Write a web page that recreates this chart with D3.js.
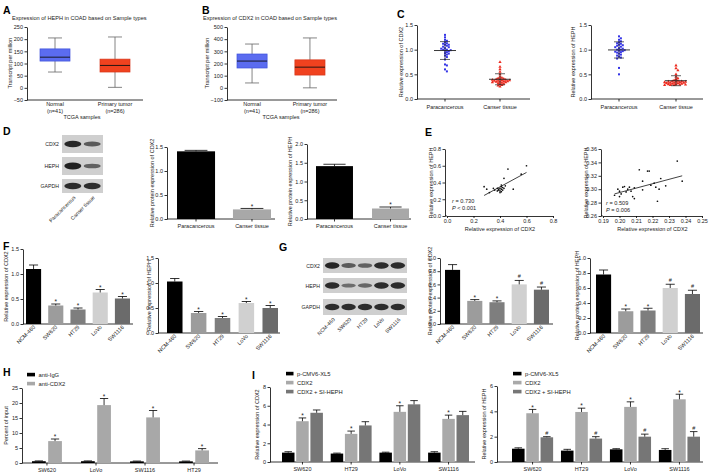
<!DOCTYPE html>
<html lang="en">
<head>
<meta charset="UTF-8">
<title>CDX2 / HEPH figure</title>
<script src="https://cdn.jsdelivr.net/npm/d3@7"></script>
<style>
  body{margin:0;background:#fff;}
  svg{font-family:"Liberation Sans",Arial,sans-serif;display:block;}
</style>
</head>
<body>
<svg id="fig" width="709" height="474" viewBox="0 0 709 474"></svg>
<script>
// ---------- data ----------
// A / B : TCGA box plots, [min, q1, median, q3, max]
const tcgaGroups = ['Normal', 'Primary tumor'];
const tcgaN = ['(n=41)', '(n=286)'];
const hephBox = [[65, 110, 126, 160, 205], [2, 65, 92, 118, 209]];
const cdx2Box = [[40, 163, 220, 278, 360], [0, 105, 170, 230, 410]];

// C : tissue scatter
const tissues = ['Paracancerous', 'Canser tissue'];
const cdx2Para = [1.3, 1.25, 1.2, 1.18, 1.15, 1.13, 1.12, 1.1, 1.1, 1.08, 1.06, 1.05, 1.03, 1.02, 1.0,
                  1.0, 0.99, 0.98, 0.97, 0.95, 0.93, 0.92, 0.9, 0.88, 0.85, 0.8, 0.7, 0.68, 0.6, 0.56];
const cdx2Canc = [0.75, 0.65, 0.6, 0.55, 0.5, 0.45, 0.43, 0.42, 0.41, 0.4, 0.4, 0.39, 0.39, 0.38, 0.38,
                  0.37, 0.37, 0.36, 0.36, 0.35, 0.35, 0.34, 0.34, 0.33, 0.32, 0.31, 0.3, 0.28, 0.27, 0.25];
const hephPara = [1.27, 1.23, 1.2, 1.17, 1.15, 1.13, 1.12, 1.1, 1.09, 1.08, 1.06, 1.05, 1.03, 1.02, 1.0,
                  1.0, 0.99, 0.98, 0.97, 0.96, 0.95, 0.94, 0.92, 0.9, 0.88, 0.86, 0.84, 0.82, 0.63, 0.5];
const hephCanc = [0.68, 0.62, 0.58, 0.5, 0.45, 0.42, 0.4, 0.38, 0.37, 0.36, 0.36, 0.35, 0.35, 0.35, 0.34,
                  0.34, 0.33, 0.33, 0.33, 0.32, 0.32, 0.31, 0.31, 0.3, 0.3, 0.29, 0.29, 0.28, 0.28, 0.28];

// D : western blot quantification
const dCdx2 = [1.41, 0.2], dCdx2Err = [1.43, 0.22];
const dHeph = [1.41, 0.28], dHephErr = [1.46, 0.32];
const dBlotRows = ['CDX2', 'HEPH', 'GAPDH'];
const dBlotBands = [[0.95, 0.55], [1.0, 0.5], [0.9, 0.9]];

// E : correlation
const eLeftPts = [[0.28, 0.35], [0.3, 0.32], [0.32, 0.28], [0.35, 0.33], [0.36, 0.31], [0.38, 0.3], [0.39, 0.32],
                  [0.4, 0.33], [0.4, 0.3], [0.41, 0.35], [0.41, 0.32], [0.42, 0.31], [0.42, 0.34], [0.43, 0.45],
                  [0.44, 0.36], [0.46, 0.56], [0.4, 0.28], [0.5, 0.32], [0.56, 0.5], [0.6, 0.6], [0.41, 0.37],
                  [0.38, 0.33], [0.39, 0.31], [0.43, 0.33], [0.41, 0.29]];
const eLeftFit = [[0.28, 0.245], [0.6, 0.52]];
const eRightPts = [[0.197, 0.291], [0.199, 0.3], [0.2, 0.289], [0.201, 0.293], [0.202, 0.303], [0.203, 0.304],
                   [0.204, 0.296], [0.205, 0.3], [0.206, 0.303], [0.207, 0.297], [0.208, 0.289], [0.209, 0.286],
                   [0.209, 0.302], [0.212, 0.329], [0.214, 0.299], [0.214, 0.312], [0.217, 0.327], [0.218, 0.327],
                   [0.219, 0.306], [0.221, 0.309], [0.222, 0.303], [0.223, 0.282], [0.224, 0.3], [0.225, 0.316],
                   [0.228, 0.305], [0.235, 0.342], [0.238, 0.312], [0.2, 0.297]];
const eRightFit = [[0.197, 0.293], [0.238, 0.32]];

// F / G : cell lines
const cellLines = ['NCM-460', 'SW620', 'HT29', 'LoVo', 'SW1116'];
const fCdx2 = [1.1, 0.37, 0.29, 0.63, 0.51], fCdx2Err = [1.18, 0.4, 0.32, 0.69, 0.55];
const fHeph = [1.03, 0.4, 0.3, 0.6, 0.5], fHephErr = [1.09, 0.43, 0.33, 0.63, 0.55];
const fMarks = ['', '*', '*', '*', '*'];
const gCdx2 = [0.82, 0.35, 0.33, 0.6, 0.52], gCdx2Err = [0.9, 0.37, 0.35, 0.66, 0.56];
const gHeph = [0.78, 0.29, 0.3, 0.6, 0.52], gHephErr = [0.84, 0.32, 0.33, 0.65, 0.57];
const gMarks = ['', '*', '*', '#', '#'];
const gBlotBands = [[0.95, 0.55, 0.5, 0.9, 0.9], [0.9, 0.4, 0.45, 0.9, 0.9], [0.9, 0.9, 0.9, 0.9, 0.9]];

// H : ChIP
const hLines = ['SW620', 'LoVo', 'SW1116', 'HT29'];
const hSeries = ['anti-IgG', 'anti-CDX2'];
const hIgG = [0.6, 0.6, 0.55, 0.55], hIgGErr = [0.7, 0.7, 0.65, 0.65];
const hCdx2 = [7.3, 19.3, 15.2, 4.2], hCdx2Err = [8.0, 21.5, 17.5, 4.8];

// I : overexpression
const iLines = ['SW620', 'HT29', 'LoVo', 'SW1116'];
const iSeries = ['p-CMV6-XL5', 'CDX2', 'CDX2 + SI-HEPH'];
const iCdx2 = [[1.0, 0.9, 1.0, 1.0], [4.35, 3.0, 5.35, 4.6], [5.25, 3.9, 6.15, 5.0]];
const iCdx2Err = [[1.1, 0.95, 1.05, 1.1], [4.7, 3.3, 6.0, 5.0], [5.55, 4.3, 6.55, 5.4]];
const iCdx2Marks = [['', '', '', ''], ['*', '*', '*', '*'], ['', '', '', '']];
const iHeph = [[1.05, 0.9, 1.0, 0.95], [3.85, 3.95, 4.35, 4.95], [1.95, 1.85, 2.0, 2.0]];
const iHephErr = [[1.12, 1.0, 1.05, 1.05], [4.15, 4.25, 4.75, 5.35], [2.0, 2.0, 2.2, 2.4]];
const iHephMarks = [['', '', '', ''], ['*', '*', '*', '*'], ['#', '#', '#', '#']];

// ---------- helpers ----------
const svg = d3.select('#fig');
const FS = 5.5;

function txt(x, y, s, o = {}) {
    const t = svg.append('text').attr('x', x).attr('y', y)
        .attr('font-size', o.size || FS).attr('fill', o.fill || '#222')
        .attr('text-anchor', o.anchor || 'start').text(s);
    if (o.weight) t.attr('font-weight', o.weight);
    if (o.rot != null) t.attr('transform', `rotate(${o.rot},${x},${y})`);
    return t;
}
function vlabel(s, x, yc) { txt(x, yc, s, {anchor: 'middle', rot: -90}); }
function line(x1, y1, x2, y2, c = '#000', w = 0.8) {
    svg.append('line').attr('x1', x1).attr('y1', y1).attr('x2', x2).attr('y2', y2)
        .attr('stroke', c).attr('stroke-width', w);
}
function yAxis(x, y, ticks, fmt) {
    const g = svg.append('g').attr('transform', `translate(${x},0)`)
        .call(d3.axisLeft(y).tickValues(ticks).tickFormat(fmt).tickSize(2.5).tickSizeOuter(0).tickPadding(1.5));
    g.attr('font-size', FS).attr('font-family', null);
    g.selectAll('.domain, line').attr('stroke-width', 0.8);
    g.selectAll('text').attr('fill', '#222');
    return g;
}
function xAxisBottom(y0, x, ticks, fmt) {
    const g = svg.append('g').attr('transform', `translate(0,${y0})`)
        .call(d3.axisBottom(x).tickValues(ticks).tickFormat(fmt).tickSize(2).tickSizeOuter(0).tickPadding(1));
    g.attr('font-size', FS).attr('font-family', null);
    g.selectAll('.domain, line').attr('stroke-width', 0.8);
    g.selectAll('text').attr('fill', '#222');
}
function errBar(cx, y0, y1, hw) {
    line(cx, y0, cx, y1);
    line(cx - hw, y1, cx + hw, y1);
}
function mark(cx, ye, m) {
    if (!m) return;
    txt(cx, m === '#' ? ye - 2 : ye + 0.3, m, {anchor: 'middle', size: m === '#' ? 5.5 : 6.5});
}

// simple bar chart (one series)
function bars(o) {
    const y = d3.scaleLinear().domain([0, o.max]).range([o.yb, o.yt]);
    const x = d3.scaleBand().domain(o.cats).range(o.xr).paddingInner(o.pi);
    yAxis(o.ax, y, o.ticks, d3.format(o.fmt));
    line(o.ax, o.yb, o.xe, o.yb);
    const w = x.bandwidth();
    o.cats.forEach((c, i) => {
        const cx = x(c) + w / 2;
        svg.append('rect').attr('x', x(c)).attr('y', y(o.vals[i])).attr('width', w)
            .attr('height', y(0) - y(o.vals[i])).attr('fill', o.colors[i]);
        errBar(cx, y(o.vals[i]), y(o.errs[i]), w * 0.3);
        mark(cx, y(o.errs[i]), o.marks && o.marks[i]);
        if (o.rot) {
            txt(cx + 2, o.yb + 3.5, c, {anchor: 'end', rot: -45});
        } else {
            line(cx, o.yb, cx, o.yb + 2.5);
            txt(cx, o.yb + 9, c, {anchor: 'middle'});
        }
    });
    vlabel(o.label, o.lx, (o.yb + o.yt) / 2);
}

// grouped bar chart
function groupedBars(o) {
    const y = d3.scaleLinear().domain([0, o.max]).range([o.yb, o.yt]);
    const x = d3.scaleBand().domain(o.cats).range(o.xr).paddingInner(o.pi);
    const xs = d3.scaleBand().domain(o.series).range([0, x.bandwidth()]).paddingInner(o.spi);
    yAxis(o.ax, y, o.ticks, d3.format('d'));
    line(o.ax, o.yb, o.xe, o.yb);
    const w = xs.bandwidth();
    o.series.forEach((s, si) => {
        o.cats.forEach((c, ci) => {
            const x0 = x(c) + xs(s), cx = x0 + w / 2;
            const v = o.vals[si][ci], e = o.errs[si][ci];
            svg.append('rect').attr('x', x0).attr('y', y(v)).attr('width', w)
                .attr('height', y(0) - y(v)).attr('fill', o.colors[si]);
            errBar(cx, y(v), y(e), w * 0.3);
            mark(cx, y(e), o.marks[si][ci]);
        });
    });
    o.cats.forEach(c => {
        const cx = x(c) + x.bandwidth() / 2;
        line(cx, o.yb, cx, o.yb + 2.5);
        txt(cx, o.yb + 8.5, c, {anchor: 'middle'});
    });
    o.series.forEach((s, si) => {
        const ly = o.legY + si * o.legStep;
        svg.append('rect').attr('x', o.legX).attr('y', ly - 3.2).attr('width', o.legW).attr('height', 3.6)
            .attr('fill', o.colors[si]);
        txt(o.legX + o.legW + 3.5, ly + 0.6, s, {size: 5.8});
    });
    vlabel(o.label, o.lx, (o.yb + o.yt) / 2);
}

// TCGA box plot
function boxPlot(o) {
    const y = d3.scaleLinear().domain(o.dom).range([100, 27]);
    const x = d3.scaleBand().domain(tcgaGroups).range(o.xr).paddingInner(o.pi);
    yAxis(o.ax, y, o.ticks, d3.format('d'));
    line(o.ax, 100, o.xe, 100);
    const w = x.bandwidth();
    tcgaGroups.forEach((g, i) => {
        const [mn, q1, md, q3, mx] = o.stats[i], cx = x(g) + w / 2;
        line(cx, y(mx), cx, y(mn), '#666', 0.8);
        line(cx - 7, y(mx), cx + 7, y(mx), '#666', 0.8);
        line(cx - 7, y(mn), cx + 7, y(mn), '#666', 0.8);
        svg.append('rect').attr('x', x(g)).attr('y', y(q3)).attr('width', w).attr('height', y(q1) - y(q3))
            .attr('fill', o.fills[i]).attr('stroke', o.strokes[i]).attr('stroke-width', 0.7);
        line(x(g), y(md), x(g) + w, y(md), '#111', 0.9);
        txt(cx, 106, g, {anchor: 'middle'});
        txt(cx, 112.5, tcgaN[i], {anchor: 'middle'});
    });
    txt(o.tx, 20, o.title, {size: 5.6});
    txt(o.sx, 118.5, 'TCGA samples', {anchor: 'middle'});
    vlabel('Transcript per million', o.lx, 63);
}

// C dot plot with mean +/- SD
function dotPlot(o) {
    const y = d3.scaleLinear().domain([0, 1.5]).range([99, 25]);
    const x = d3.scalePoint().domain(tissues).range(o.xr);
    yAxis(o.ax, y, [0, 0.5, 1.0, 1.5], d3.format('.1f'));
    line(o.ax, 99, o.xe, 99);
    const sets = [o.para, o.canc];
    sets.forEach((vals, si) => {
        const cx = x(tissues[si]);
        const placed = [];
        vals.forEach(v => {
            const yy = y(v);
            let off = 0;
            for (let k = 0; k < 40; k++) {
                const cand = (k % 2 ? 1 : -1) * Math.ceil(k / 2) * 1.9;
                if (placed.every(p => Math.hypot(p[0] - (cx + cand), p[1] - yy) >= 2.1)) { off = cand; break; }
            }
            placed.push([cx + off, yy]);
        });
        placed.forEach(p => {
            if (si === 0) {
                svg.append('rect').attr('x', p[0] - 1).attr('y', p[1] - 1).attr('width', 2).attr('height', 2)
                    .attr('fill', '#3434e6');
            } else {
                svg.append('path').attr('d', d3.symbol(d3.symbolTriangle, 4.5)())
                    .attr('transform', `translate(${p[0]},${p[1]})`).attr('fill', '#ec2a1e');
            }
        });
        const m = d3.mean(vals), sd = d3.deviation(vals);
        line(cx - 11, y(m), cx + 11, y(m), '#222', 0.9);
        line(cx, y(m + sd), cx, y(m - sd), '#222', 0.7);
        line(cx - 5, y(m + sd), cx + 5, y(m + sd), '#222', 0.7);
        line(cx - 5, y(m - sd), cx + 5, y(m - sd), '#222', 0.7);
        line(cx, 99, cx, 101.5);
        txt(cx, 108.5, tissues[si], {anchor: 'middle'});
    });
    vlabel(o.label, o.lx, 62);
}

// E scatter with fit line
function scatter(o) {
    const yb = 216;
    const x = d3.scaleLinear().domain(o.xd).range(o.xr);
    const y = d3.scaleLinear().domain(o.yd).range([yb, 149]);
    yAxis(o.ax, y, o.yt, d3.format(o.yf));
    xAxisBottom(yb, x, o.xt, d3.format(o.xf));
    line(o.ax, yb, o.xr[0], yb);
    svg.append('g').selectAll('circle').data(o.pts).join('circle')
        .attr('cx', d => x(d[0])).attr('cy', d => y(d[1])).attr('r', 0.85).attr('fill', '#111');
    line(x(o.fit[0][0]), y(o.fit[0][1]), x(o.fit[1][0]), y(o.fit[1][1]), '#111', 0.8);
    vlabel('Relative expression of HEPH', o.lx, 183);
    txt((o.xr[0] + o.xr[1]) / 2, 230.5, 'Relative expression of CDX2', {anchor: 'middle'});
    const t1 = txt(o.sx, o.sy, '', {size: 5.6});
    t1.append('tspan').attr('font-style', 'italic').text('r');
    t1.append('tspan').text(' = ' + o.r);
    const t2 = txt(o.sx, o.sy + 7, '', {size: 5.6});
    t2.append('tspan').attr('font-style', 'italic').text('P');
    t2.append('tspan').text(o.p);
}

// western blot picture
function blot(o) {
    const lane = d3.scaleBand().domain(d3.range(o.bands[0].length)).range([o.x0, o.x1]).padding(0.12);
    o.rows.forEach((r, ri) => {
        const [ya, yb] = o.ys[ri];
        svg.append('rect').attr('x', o.x0).attr('y', ya).attr('width', o.x1 - o.x0).attr('height', yb - ya)
            .attr('fill', '#cfcfcf');
        o.bands[ri].forEach((v, li) => {
            svg.append('ellipse').attr('cx', lane(li) + lane.bandwidth() / 2).attr('cy', (ya + yb) / 2)
                .attr('rx', lane.bandwidth() / 2).attr('ry', 1.2 + 2.2 * v)
                .attr('fill', '#161616').attr('opacity', 0.25 + 0.7 * v);
        });
        txt(o.x0 - 3, (ya + yb) / 2 + 2, r, {anchor: 'end', size: 5.2});
    });
    o.labels.forEach((l, li) => {
        txt(lane(li) + lane.bandwidth() / 2 + 3, o.ly, l, {anchor: 'end', rot: -45, size: 5.2});
    });
}

// ---------- panels ----------
const panelLetters = [['A', 3, 13.5], ['B', 202, 13.5], ['C', 397, 18], ['D', 3, 135], ['E', 425, 136],
                      ['F', 3, 250], ['G', 279, 251], ['H', 3, 376], ['I', 252, 379]];
panelLetters.forEach(([l, x, y]) => txt(x, y, l, {size: 10.5, weight: 'bold', fill: '#000'}));

// A, B
boxPlot({title: 'Expression of HEPH in COAD based on Sample types', tx: 12, stats: hephBox, dom: [-50, 250],
         ticks: d3.range(-50, 251, 50), ax: 27, xe: 143, xr: [40, 130], pi: 0.5, sx: 82, lx: 12,
         fills: ['#5b6cf0', '#f0421f'], strokes: ['#3f52dc', '#d6361a']});
boxPlot({title: 'Expression of CDX2 in COAD based on Sample types', tx: 203, stats: cdx2Box, dom: [-100, 500],
         ticks: d3.range(-100, 501, 100), ax: 227, xe: 337, xr: [237, 325], pi: 0.48, sx: 281, lx: 209,
         fills: ['#5b6cf0', '#f0421f'], strokes: ['#3f52dc', '#d6361a']});

// C
dotPlot({para: cdx2Para, canc: cdx2Canc, ax: 417, xe: 530, xr: [445, 500], lx: 403, label: 'Relative expression of CDX2'});
dotPlot({para: hephPara, canc: hephCanc, ax: 591, xe: 703, xr: [619, 676], lx: 575, label: 'Relative expression of HEPH'});

// D
blot({rows: dBlotRows, bands: dBlotBands, x0: 62, x1: 103, ys: [[135, 153], [157, 175], [179, 193]],
      labels: tissues, ly: 198});
bars({cats: tissues, vals: dCdx2, errs: dCdx2Err, colors: ['#000', '#a8a8a8'], marks: ['', '*'],
      max: 1.5, ticks: [0, 0.5, 1.0, 1.5], fmt: '.1f', yb: 219, yt: 147, ax: 167, xe: 275, xr: [177, 271], pi: 0.32,
      lx: 154, label: 'Relative protein expression of CDX2'});
bars({cats: tissues, vals: dHeph, errs: dHephErr, colors: ['#000', '#a8a8a8'], marks: ['', '*'],
      max: 2.0, ticks: [0, 0.5, 1.0, 1.5, 2.0], fmt: '.1f', yb: 219, yt: 144, ax: 307, xe: 411, xr: [316, 409], pi: 0.34,
      lx: 292, label: 'Relative protein expression of HEPH'});

// E
scatter({pts: eLeftPts, fit: eLeftFit, xd: [0, 0.8], xr: [447, 553], yd: [0, 0.8], ax: 445,
         xt: [0, 0.2, 0.4, 0.6, 0.8], xf: '.1f', yt: [0, 0.2, 0.4, 0.6, 0.8], yf: '.1f', lx: 433,
         sx: 452, sy: 203, r: '0.730', p: ' < 0.001'});
scatter({pts: eRightPts, fit: eRightFit, xd: [0.19, 0.25], xr: [603, 702], yd: [0.26, 0.36], ax: 601,
         xt: [0.19, 0.2, 0.21, 0.22, 0.23, 0.24, 0.25], xf: '.2f', yt: [0.26, 0.28, 0.3, 0.32, 0.34, 0.36], yf: '.2f',
         lx: 588, sx: 606, sy: 205, r: '0.509', p: ' = 0.006'});

// F
const lineColors = ['#000', '#9c9c9c', '#7e7e7e', '#d0d0d0', '#6b6b6b'];
bars({cats: cellLines, vals: fCdx2, errs: fCdx2Err, colors: lineColors, marks: fMarks, rot: true,
      max: 1.5, ticks: [0, 0.5, 1.0, 1.5], fmt: '.1f', yb: 324, yt: 249, ax: 23, xe: 133, xr: [26, 130], pi: 0.32,
      lx: 8, label: 'Relative expression of CDX2'});
bars({cats: cellLines, vals: fHeph, errs: fHephErr, colors: lineColors, marks: fMarks, rot: true,
      max: 1.5, ticks: [0, 0.5, 1.0, 1.5], fmt: '.1f', yb: 333, yt: 258, ax: 158, xe: 280, xr: [167, 278], pi: 0.35,
      lx: 151, label: 'Relative expression of HEPH'});

// G
blot({rows: dBlotRows, bands: gBlotBands, x0: 323, x1: 407, ys: [[258, 273], [278, 293], [299, 315]],
      labels: cellLines, ly: 320});
bars({cats: cellLines, vals: gCdx2, errs: gCdx2Err, colors: lineColors, marks: gMarks, rot: true,
      max: 1.0, ticks: [0, 0.2, 0.4, 0.6, 0.8, 1.0], fmt: '.1f', yb: 324, yt: 258, ax: 440, xe: 553, xr: [445, 549], pi: 0.32,
      lx: 432, label: 'Relative protein expression of CDX2'});
bars({cats: cellLines, vals: gHeph, errs: gHephErr, colors: lineColors, marks: gMarks, rot: true,
      max: 1.0, ticks: [0, 0.2, 0.4, 0.6, 0.8, 1.0], fmt: '.1f', yb: 333, yt: 258, ax: 590, xe: 703, xr: [596, 700], pi: 0.32,
      lx: 579, label: 'Relative protein expression of HEPH'});

// H
groupedBars({cats: hLines, series: hSeries, vals: [hIgG, hCdx2], errs: [hIgGErr, hCdx2Err],
             marks: [['', '', '', ''], ['*', '*', '*', '*']], colors: ['#000', '#a8a8a8'],
             max: 25, ticks: [0, 5, 10, 15, 20, 25], yb: 463, yt: 388, ax: 22, xe: 218, xr: [32, 209], pi: 0.39, spi: 0.15,
             legX: 27, legY: 376, legStep: 9, legW: 8, lx: 8, label: 'Percent of input'});

// I
groupedBars({cats: iLines, series: iSeries, vals: iCdx2, errs: iCdx2Err, marks: iCdx2Marks,
             colors: ['#000', '#a9a9a9', '#767676'],
             max: 8, ticks: [0, 2, 4, 6, 8], yb: 462, yt: 387, ax: 270, xe: 475, xr: [282, 469], pi: 0.16, spi: 0.12,
             legX: 286, legY: 375, legStep: 9, legW: 7.5, lx: 259, label: 'Relative expression of CDX2'});
groupedBars({cats: iLines, series: iSeries, vals: iHeph, errs: iHephErr, marks: iHephMarks,
             colors: ['#000', '#a9a9a9', '#767676'],
             max: 6, ticks: [0, 2, 4, 6], yb: 462, yt: 386, ax: 497, xe: 703, xr: [512, 700], pi: 0.16, spi: 0.12,
             legX: 513, legY: 375, legStep: 9, legW: 8.5, lx: 486, label: 'Relative expression of HEPH'});
</script>
</body>
</html>
